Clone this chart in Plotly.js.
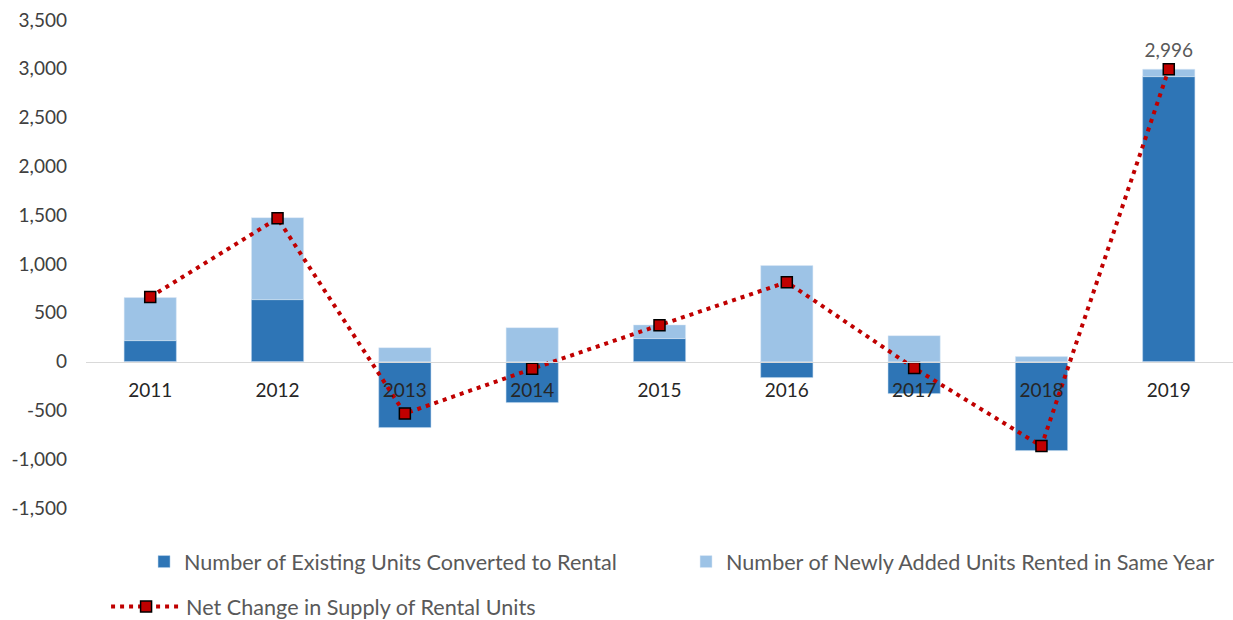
<!DOCTYPE html>
<html>
<head>
<meta charset="utf-8">
<script src="https://cdn.plot.ly/plotly-3.0.1.min.js"></script>
<style>html,body{margin:0;padding:0;background:#fff;}#chart{width:1233px;height:620px;}</style>
</head>
<body>
<div id="chart"></div>
<script>
const years = ['2011','2012','2013','2014','2015','2016','2017','2018','2019'];
const existingConverted = [215, 635, -676, -420, 236, -164, -328, -912, 2920];
const newlyAddedRented = [441, 840, 143, 348, 140, 984, 266, 51, 76];
const netChange = [662, 1468, -533, -74, 373, 814, -66, -866, 2996];
const netLabels = ['', '', '', '', '', '', '', '', '2,996'];
const yTicks = [-1500, -1000, -500, 0, 500, 1000, 1500, 2000, 2500, 3000, 3500];
const yTickText = yTicks.map(v => v.toLocaleString('en-US'));

const fontFam = 'Lato, "Open Sans", sans-serif';

const traces = [
  {
    type: 'bar', x: years, y: existingConverted,
    name: 'Number of Existing Units Converted to Rental',
    legend: 'legend',
    marker: {color: '#2E75B6', line: {color: '#BDD7EE', width: 0.5}},
    hoverinfo: 'x+y'
  },
  {
    type: 'bar', x: years, y: newlyAddedRented,
    name: 'Number of Newly Added Units Rented in Same Year',
    legend: 'legend',
    marker: {color: '#9DC3E6', line: {color: '#DEEBF7', width: 0.5}},
    hoverinfo: 'x+y'
  },
  {
    type: 'scatter', mode: 'lines+markers+text', x: years, y: netChange,
    name: 'Net Change in Supply of Rental Units',
    legend: 'legend2',
    text: netLabels, textposition: 'top center',
    textfont: {family: fontFam, size: 19, color: '#595959'},
    line: {color: '#C00000', width: 4, dash: '4px,5px'},
    marker: {symbol: 'square', size: 11, color: '#C00000', line: {color: '#000', width: 1.5}}
  }
];

const layout = {
  width: 1233, height: 620,
  margin: {l: 86, r: 0, t: 20, b: 112, autoexpand: false},
  paper_bgcolor: '#fff', plot_bgcolor: '#fff',
  barmode: 'relative', bargap: 0.59,
  font: {family: fontFam, size: 19, color: '#404040'},
  showlegend: true,
  legend: {
    orientation: 'h', x: 0.0506, xanchor: 'left', y: -0.1107, yanchor: 'middle',
    entrywidth: 497, entrywidthmode: 'pixels',
    font: {family: fontFam, size: 21.6, color: '#595959'},
    traceorder: 'normal'
  },
  legend2: {
    orientation: 'h', x: 0.0175, xanchor: 'left', y: -0.2029, yanchor: 'middle',
    itemwidth: 70,
    font: {family: fontFam, size: 21.6, color: '#595959'}
  },
  xaxis: {
    type: 'category', anchor: 'free', position: 0.3,
    showline: true, linecolor: '#D9D9D9', linewidth: 1.5,
    showgrid: false, zeroline: false, ticks: '',
    ticklabelstandoff: 11,
    tickfont: {family: fontFam, size: 19, color: '#262626'}
  },
  yaxis: {
    range: [-1500, 3500], tickvals: yTicks, ticktext: yTickText,
    showgrid: false, zeroline: false, showline: false, ticks: '',
    ticklabelstandoff: 18,
    tickfont: {family: fontFam, size: 19, color: '#404040'}
  }
};

Plotly.newPlot('chart', traces, layout, {displayModeBar: false, staticPlot: true});
</script>
</body>
</html>
